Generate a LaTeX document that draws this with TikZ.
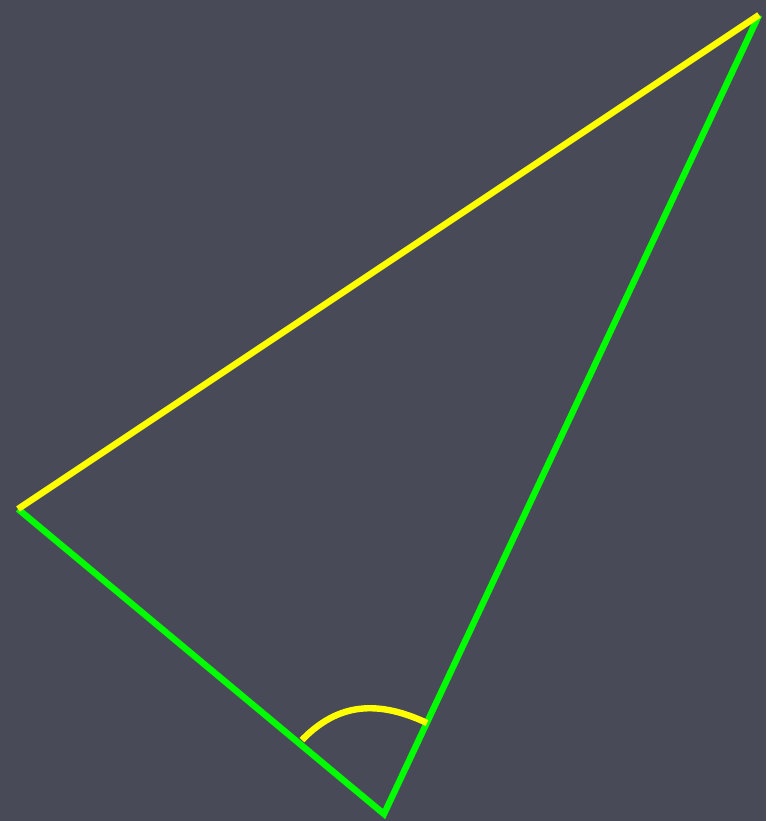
\documentclass[tikz,border=0pt]{standalone}
\usepackage{tikz}
\definecolor{figBack}{RGB}{72,75,87}
\definecolor{figYellow}{RGB}{255,255,0}
\definecolor{figGreen}{RGB}{0,255,0}

\begin{document}
\begin{tikzpicture}[
  x=1pt,
  y=-1pt,
  edge/.style={line width=6.4pt},
  legside/.style={edge, draw=figGreen},
  hypside/.style={edge, draw=figYellow},
  anglemark/.style={edge, draw=figYellow}
]
\fill[figBack] (0,0) rectangle (766,821);
\useasboundingbox (0,0) rectangle (766,821);

\coordinate (A) at (18,509);
\coordinate (B) at (384,814);
\coordinate (C) at (759,15);

% legs
\draw[legside] (A) -- (B) -- (C);
% hypotenuse
\draw[hypside] (A) -- (C);

% angle at B
\coordinate (m1) at (302,740);
\coordinate (m2) at (427,723);
\draw[anglemark] (m1) .. controls (334,707) and (372,697) .. (m2);
\end{tikzpicture}
\end{document}
